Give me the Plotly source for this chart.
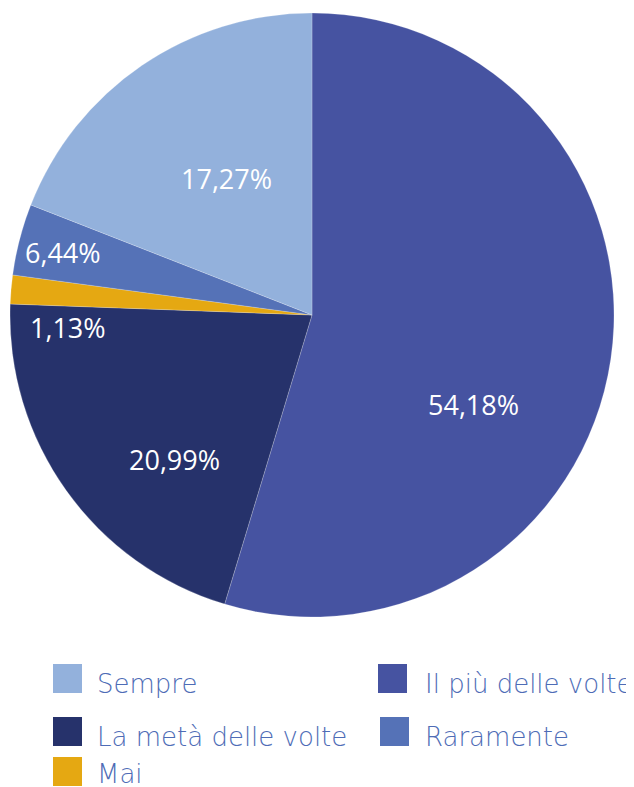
import plotly.graph_objects as go

labels = ["Il più delle volte", "La metà delle volte", "Mai", "Raramente", "Sempre"]
# percentages printed on the slices
pct_labels = [54.18, 20.99, 1.13, 6.44, 17.27]
slice_values = [54.67, 20.91, 1.54, 3.82, 19.06]
colors = ["#4653A1", "#26326B", "#E5A812", "#5572B7", "#93B1DC"]

legend_order = ["Sempre", "Il più delle volte", "La metà delle volte", "Raramente", "Mai"]

W, H = 634, 787
OFF = 8  # page body margin
FONT = "Open Sans"
LEG_FONT = "DejaVu Sans ExtraLight, DejaVu Sans"


def fx(px):
    return (px - OFF) / W


def fy(py):
    return 1 - (py - OFF) / H


fig = go.Figure()
fig.add_trace(go.Pie(
    labels=labels, values=slice_values, sort=False, direction="clockwise", rotation=0,
    marker=dict(colors=colors, line=dict(color="rgba(255,255,255,0.35)", width=0.6)),
    textinfo="none", hoverinfo="label", showlegend=False,
    domain=dict(x=[fx(10), fx(614)], y=[fy(617), fy(13)]),
))

# percentage labels (pixel positions of text centres)
label_pos = {
    "Il più delle volte": (473, 404),
    "La metà delle volte": (174, 459),
    "Mai": (68, 327),
    "Raramente": (63, 252),
    "Sempre": (226, 178),
}
annotations = []
for lab, val in zip(labels, pct_labels):
    px, py = label_pos[lab]
    annotations.append(dict(
        x=fx(px), y=fy(py), xref="paper", yref="paper", showarrow=False,
        text=f"{val:.2f}%".replace(".", ","),
        font=dict(family=FONT, size=27, color="white", weight=400),
        xanchor="center", yanchor="middle",
    ))

# manual legend: (square left, square top, text left, text centre y)
leg_pos = {
    "Sempre": (53, 664, 95, 684),
    "Il più delle volte": (378, 664, 423, 684),
    "La metà delle volte": (53, 717, 95, 737),
    "Raramente": (380, 717, 423, 737),
    "Mai": (53, 757, 95, 774),
}
shapes = []
col_of = dict(zip(labels, colors))
for lab in legend_order:
    x0, y0, tx, ty = leg_pos[lab]
    shapes.append(dict(type="rect", xref="paper", yref="paper",
                       x0=fx(x0), x1=fx(x0 + 29), y0=fy(y0), y1=fy(y0 + 29),
                       fillcolor=col_of[lab], line=dict(width=0)))
    annotations.append(dict(
        x=fx(tx), y=fy(ty), xref="paper", yref="paper", showarrow=False,
        text=lab, font=dict(family=LEG_FONT, size=26, color="#4E6CB6", weight=200),
        xanchor="left", yanchor="middle",
    ))

fig.update_layout(
    width=W, height=H, margin=dict(l=0, r=0, t=0, b=0),
    paper_bgcolor="white", plot_bgcolor="white",
    annotations=annotations, shapes=shapes, showlegend=False,
)
fig.write_html("out.html")
